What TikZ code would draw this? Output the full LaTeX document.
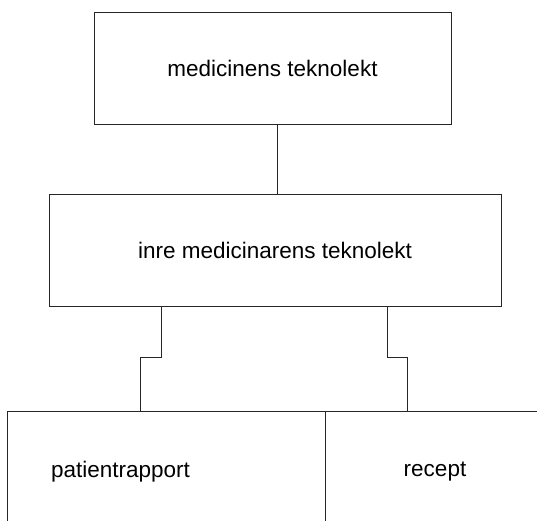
\documentclass[tikz,border=0pt]{standalone}
\usepackage{fontspec}
\setmainfont{Liberation Sans}
\begin{document}
\begin{tikzpicture}[x=1pt,y=-1pt,
  box/.style={draw=black!85, line width=1pt, rectangle, inner sep=0pt, font=\fontsize{22.5}{27}\selectfont},
  conn/.style={draw=black!85, line width=1pt}]
\useasboundingbox (0,0) rectangle (537,520);
\clip (0,0) rectangle (537,520);
\node[box, minimum width=357pt, minimum height=112pt] (top) at (272.5,68) {medicinens teknolekt};
\node[box, minimum width=452pt, minimum height=112pt] (mid) at (275,250) {inre medicinarens teknolekt};
\node[box, minimum height=122pt, text width=230.5pt, align=left, inner xsep=43.5pt] (pl) at (166.25,472) {patientrapport};
\node[box, minimum width=220pt, minimum height=122pt] (rc) at (435,472) {recept};
\coordinate (xa) at (277,0);
\coordinate (xl1) at (161,0);
\coordinate (xl2) at (140,0);
\coordinate (xr1) at (387,0);
\coordinate (xr2) at (407,0);
\coordinate (ym) at (0,357);
\draw[conn] (top.south -| xa) -- (mid.north -| xa);
\draw[conn] (mid.south -| xl1) -- (xl1 |- ym) -- (xl2 |- ym) -- (pl.north -| xl2);
\draw[conn] (mid.south -| xr1) -- (xr1 |- ym) -- (xr2 |- ym) -- (rc.north -| xr2);
\end{tikzpicture}
\end{document}
